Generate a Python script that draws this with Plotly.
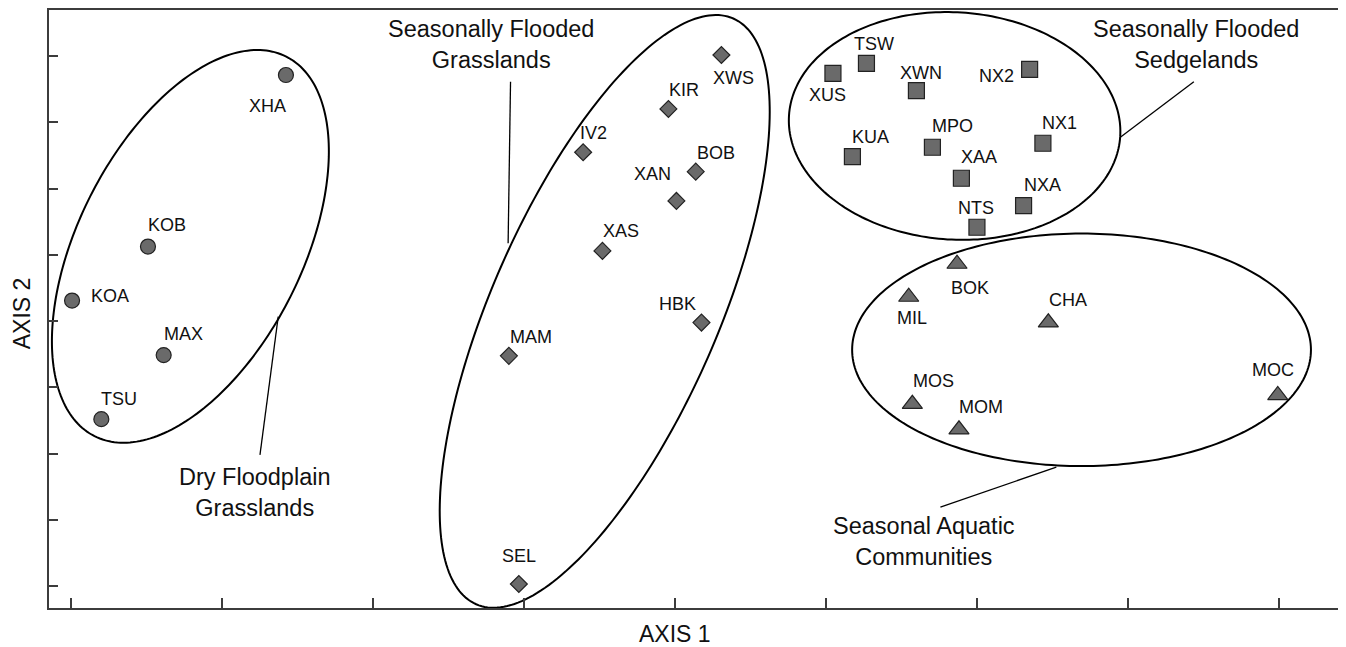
import math
import plotly.graph_objects as go

# ---------------- data ----------------
dry_names = ["XHA", "KOB", "KOA", "MAX", "TSU"]
dry_x = [1.424, 0.510, 0.007, 0.614, 0.201]
dry_y = [7.713, 5.124, 4.309, 3.486, 2.520]

sfg_names = ["XWS", "KIR", "IV2", "BOB", "XAN", "XAS", "HBK", "MAM", "SEL"]
sfg_x = [4.309, 3.958, 3.393, 4.139, 4.011, 3.521, 4.177, 2.901, 2.967]
sfg_y = [8.015, 7.201, 6.548, 6.255, 5.813, 5.059, 3.977, 3.475, 0.032]

sed_names = ["XUS", "TSW", "XWN", "NX2", "MPO", "KUA", "NX1", "XAA", "NXA", "NTS"]
sed_x = [5.048, 5.270, 5.601, 6.351, 5.707, 5.177, 6.439, 5.899, 6.311, 6.002]
sed_y = [7.739, 7.890, 7.477, 7.799, 6.623, 6.481, 6.683, 6.155, 5.742, 5.416]

aq_names = ["BOK", "MIL", "CHA", "MOS", "MOM", "MOC"]
aq_x = [5.870, 5.550, 6.475, 5.574, 5.883, 7.995]
aq_y = [4.863, 4.365, 3.977, 2.747, 2.363, 2.882]

tick_vals = [0, 1, 2, 3, 4, 5, 6, 7, 8]
x_title = "AXIS 1"
y_title = "AXIS 2"

# ---------------- styling / layout helpers ----------------
FONT = "Arial, 'Liberation Sans', sans-serif"
FILL = "#6a6a6a"
EDGE = "#222222"
PX_PER_X = 151.0   # pixels per x unit
PX_PER_Y = 66.3    # pixels per y unit

# label offsets (pixels, dx right, dy down) relative to the marker
label_offsets = {
    "XHA": (-18, 31), "KOB": (19, -22), "KOA": (38, -5), "MAX": (20, -21), "TSU": (18, -20),
    "XWS": (12, 23), "KIR": (16, -19), "IV2": (10, -19), "BOB": (20, -19), "XAN": (-24, -27),
    "XAS": (19, -20), "HBK": (-24, -19), "MAM": (22, -19), "SEL": (0, -28),
    "XUS": (-5, 22), "TSW": (8, -19), "XWN": (5, -18), "NX2": (-33, 7), "MPO": (20, -21),
    "KUA": (18, -20), "NX1": (17, -20), "XAA": (18, -21), "NXA": (19, -21), "NTS": (-1, -19),
    "BOK": (13, 24), "MIL": (3, 21), "CHA": (20, -23), "MOS": (21, -23), "MOM": (22, -23),
    "MOC": (-5, -25),
}

groups = [
    (dry_names, dry_x, dry_y, "circle", 15),
    (sfg_names, sfg_x, sfg_y, "diamond", 13),
    (sed_names, sed_x, sed_y, "square", 16),
    (aq_names, aq_x, aq_y, "triangle-up", 17.5),
]

fig = go.Figure()
annotations = []
for names, xs, ys, sym, size in groups:
    fig.add_trace(go.Scatter(
        x=xs, y=ys, mode="markers", text=names, showlegend=False,
        marker=dict(symbol=sym, size=size, color=FILL, line=dict(color=EDGE, width=1.2)),
        hoverinfo="text",
    ))
    for n, xv, yv in zip(names, xs, ys):
        dx, dy = label_offsets[n]
        annotations.append(dict(
            x=xv, y=yv, xref="x", yref="y", text=n, showarrow=False,
            xshift=dx, yshift=-dy, font=dict(family=FONT, size=18, color="#111111"),
            xanchor="center", yanchor="middle",
        ))


def ellipse_path(cx, cy, a_px, b_px, theta_deg, n=240):
    th = math.radians(theta_deg)
    pts = []
    for i in range(n + 1):
        t = 2 * math.pi * i / n
        dxp = a_px * math.cos(t) * math.cos(th) - b_px * math.sin(t) * math.sin(th)
        dyp = a_px * math.cos(t) * math.sin(th) + b_px * math.sin(t) * math.cos(th)
        pts.append((cx + dxp / PX_PER_X, cy + dyp / PX_PER_Y))
    return "M " + " L ".join(f"{p[0]:.4f},{p[1]:.4f}" for p in pts) + " Z"


ellipses = [
    (0.791, 5.127, 212.7, 112.0, 63.2),
    (3.536, 4.146, 320.0, 113.0, 66.3),
    (5.854, 6.944, 166.0, 113.7, -3.6),
    (6.695, 3.566, 229.5, 116.3, 0.0),
]
shapes = []
for cx, cy, a, b, th in ellipses:
    shapes.append(dict(type="path", xref="x", yref="y", path=ellipse_path(cx, cy, a, b, th),
                       line=dict(color="#000000", width=2), fillcolor="rgba(0,0,0,0)", layer="below"))

leaders = [
    (1.373, 4.068, 1.252, 1.982),
    (2.912, 7.612, 2.896, 5.175),
    (6.952, 6.774, 7.439, 7.612),
    (6.528, 1.796, 5.760, 1.193),
]
for x0, y0, x1, y1 in leaders:
    shapes.append(dict(type="line", xref="x", yref="y", x0=x0, y0=y0, x1=x1, y1=y1,
                       line=dict(color="#000000", width=1.3), layer="below"))

group_labels = [
    ("Dry Floodplain<br>Grasslands", 1.219, 1.416),
    ("Seasonally Flooded<br>Grasslands", 2.781, 8.166),
    ("Seasonally Flooded<br>Sedgelands", 7.450, 8.181),
    ("Seasonal Aquatic<br>Communities", 5.649, 0.674),
]
for txt, gx, gy in group_labels:
    annotations.append(dict(x=gx, y=gy, xref="x", yref="y", text=txt, showarrow=False,
                            font=dict(family=FONT, size=23.5, color="#111111"),
                            xanchor="center", yanchor="middle", align="center"))

# axis titles (placed as in the reference: x title under tick 4, y title left of axis)
annotations.append(dict(x=4.0, y=0, xref="x", yref="paper", yshift=-25.5, text=x_title,
                        showarrow=False, xanchor="center", yanchor="middle", borderpad=0,
                        font=dict(family=FONT, size=23, color="#111111")))
annotations.append(dict(x=0, y=4.11, xref="paper", yref="y", xshift=-27.5, text=y_title,
                        textangle=-90, showarrow=False, xanchor="center", yanchor="middle",
                        borderpad=0, font=dict(family=FONT, size=23, color="#111111")))

axis_common = dict(
    showgrid=False, zeroline=False, showticklabels=False, automargin=False,
    showline=True, linecolor="#3c3c3c", linewidth=2, mirror=True,
    ticks="inside", tickcolor="#3c3c3c", tickwidth=1.5,
    tickmode="array", tickvals=tick_vals,
)

# the page body adds an 8px offset, so the figure is 8px smaller than the window
fig.update_layout(
    width=1338, height=639,
    margin=dict(l=41, r=6.5, t=2, b=38.7, autoexpand=False),
    paper_bgcolor="white", plot_bgcolor="white",
    font=dict(family=FONT, color="#111111"),
    xaxis=dict(range=[-0.1457, 8.4007], ticklen=10, **axis_common),
    yaxis=dict(range=[-0.330, 8.694], ticklen=9, **axis_common),
    shapes=shapes,
    annotations=annotations,
)

fig.write_html("out.html")
